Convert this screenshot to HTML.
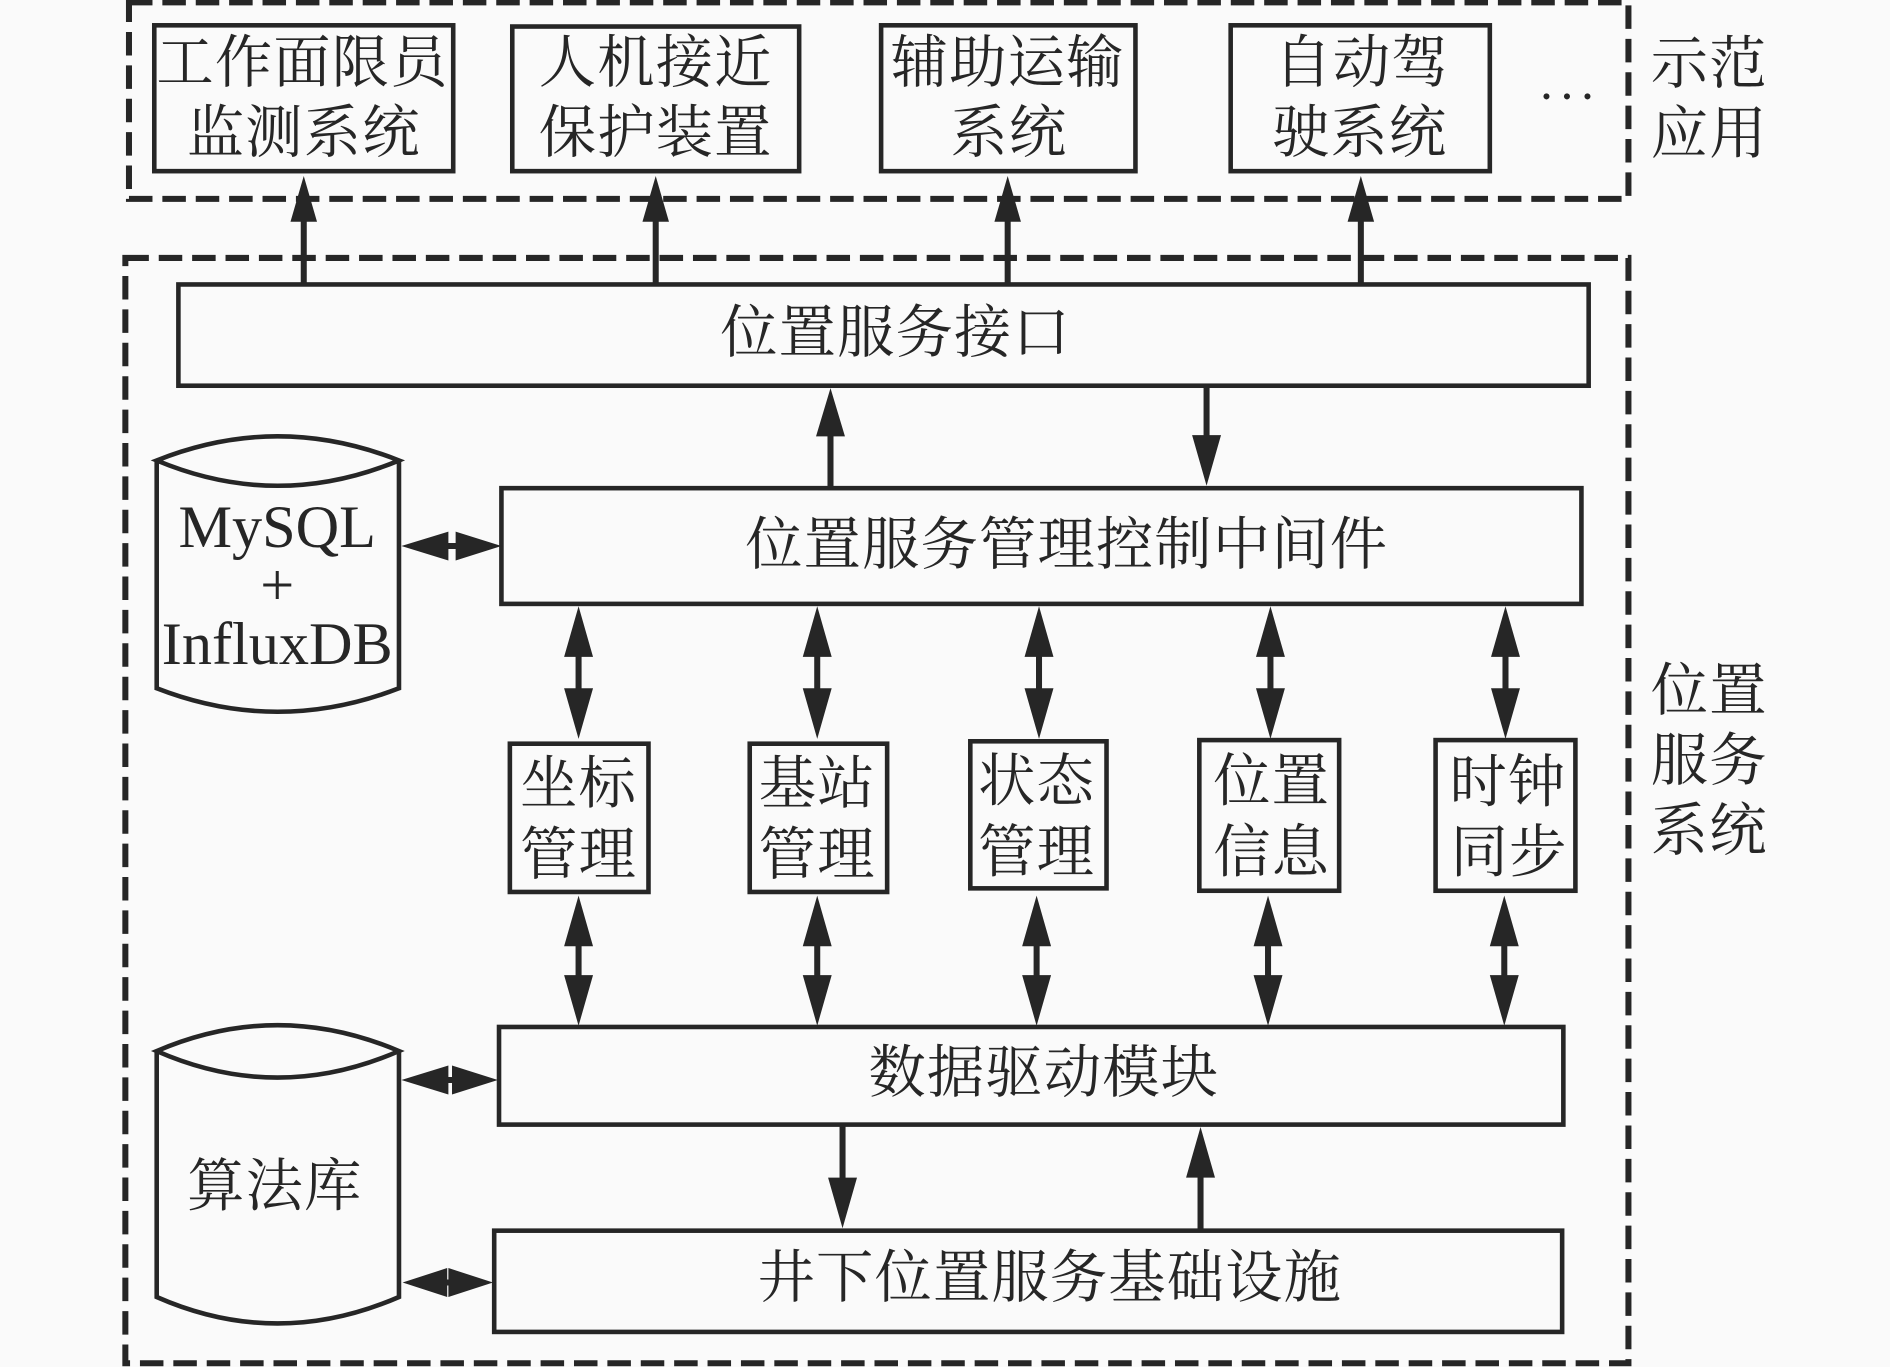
<!DOCTYPE html>
<html lang="zh">
<head>
<meta charset="utf-8">
<title>位置服务系统</title>
<style>
html,body{margin:0;padding:0;background:#fafafa;width:1890px;height:1367px;overflow:hidden}
svg{display:block}
text{font-family:"Noto Serif CJK SC","Liberation Serif",serif;font-size:47.5px;font-weight:400;fill:#262626;text-anchor:middle;letter-spacing:1px}
.en{font-family:"Liberation Serif",serif;font-size:50px;letter-spacing:0}
.b{fill:none;stroke:#262626;stroke-width:3.8}
.d{fill:none;stroke:#262626;stroke-width:5;stroke-dasharray:19.5 8.2}
.l{stroke:#262626;stroke-width:5;fill:none}
.h{fill:#262626;stroke:none}
</style>
</head>
<body>
<svg width="1890" height="1367" viewBox="0 0 1568 1134.1" xmlns="http://www.w3.org/2000/svg">
<rect width="1568" height="1135" fill="#fafafa"/>
<!-- dashed groups -->
<rect class="d" x="107" y="2" width="1244" height="163"/>
<rect class="d" x="104" y="214" width="1247" height="917"/>
<!-- top boxes -->
<rect class="b" x="128" y="21" width="248" height="121"/>
<rect class="b" x="425" y="22" width="238" height="120"/>
<rect class="b" x="731" y="21" width="211" height="121"/>
<rect class="b" x="1021" y="21" width="215" height="121"/>
<text x="251" y="68">工作面限员</text><text x="252" y="126">监测系统</text>
<text x="544" y="68">人机接近</text><text x="544" y="126">保护装置</text>
<text x="836" y="68">辅助运输</text><text x="837" y="126">系统</text>
<text x="1130" y="68">自动驾</text><text x="1128" y="126">驶系统</text>
<circle class="h" cx="1283" cy="80" r="2.5"/><circle class="h" cx="1300" cy="80" r="2.5"/><circle class="h" cx="1317" cy="80" r="2.5"/>
<text x="1418" y="69">示范</text><text x="1418" y="127">应用</text>
<text x="1418" y="589">位置</text><text x="1418" y="647">服务</text><text x="1418" y="705">系统</text>
<!-- up arrows to apps -->
<path class="l" d="M252 236V175M544 236V175M836 236V175M1129 236V175"/>
<path class="h" d="M252 146l11 38h-22zM544 146l11 38h-22zM836 146l11 38h-22zM1129 146l11 38h-22z"/>
<!-- interface -->
<rect class="b" x="148" y="236" width="1170" height="84"/>
<text x="743" y="292">位置服务接口</text>
<path class="l" d="M689 405V355M1001 320V370"/>
<path class="h" d="M689 322l12 40h-24zM1001 403l12 -42h-24z"/>
<!-- middleware -->
<rect class="b" x="416" y="405" width="896" height="96"/>
<text x="885" y="468">位置服务管理控制中间件</text>
<!-- cylinder 1 -->
<path class="b" d="M130 382Q230 342 331 382Q230 424 130 382ZM130 382V571Q230 610 331 571V382"/>
<text class="en" x="230" y="454">MySQL</text>
<text class="en" x="230" y="502">+</text>
<text class="en" x="230" y="551">InfluxDB</text>
<!-- cylinder 2 -->
<path class="b" d="M130 872Q230 829 331 872Q230 916 130 872ZM130 872V1076Q230 1120 331 1076V872"/>
<text x="228" y="1000">算法库</text>
<!-- horizontal double arrows -->
<path class="l" d="M365 453H385M365 896H385M365 1064H385"/>
<path class="h" d="M333 453l39 -12v24zM416 453l-38 -12v24zM333 896l39 -12v24zM413 896l-38 -12v24zM334 1064l37 -12v24zM409 1064l-37 -12v24z"/>
<!-- vertical double arrows, upper row -->
<path class="l" d="M480 540V575M678 540V575M862 540V575M1054 540V575M1249 540V575"/>
<path class="h" d="M480 503l12 42h-24zM480 613l12 -42h-24zM678 503l12 42h-24zM678 613l12 -42h-24zM862 503l12 42h-24zM862 613l12 -42h-24zM1054 503l12 42h-24zM1054 613l12 -42h-24zM1249 503l12 42h-24zM1249 613l12 -42h-24z"/>
<!-- small boxes -->
<rect class="b" x="423" y="617" width="115" height="123"/>
<rect class="b" x="622" y="617" width="114" height="123"/>
<rect class="b" x="805" y="615" width="113" height="122"/>
<rect class="b" x="995" y="614" width="116" height="125"/>
<rect class="b" x="1191" y="614" width="116" height="125"/>
<text x="480" y="666">坐标</text><text x="480" y="725">管理</text>
<text x="678" y="666">基站</text><text x="678" y="725">管理</text>
<text x="860" y="664">状态</text><text x="860" y="723">管理</text>
<text x="1055" y="664">位置</text><text x="1055" y="723">信息</text>
<text x="1251" y="665">时钟</text><text x="1252" y="723">同步</text>
<!-- vertical double arrows, lower row -->
<path class="l" d="M480 780V815M678 780V815M860 780V815M1052 780V815M1248 780V815"/>
<path class="h" d="M480 743l12 42h-24zM480 851l12 -42h-24zM678 743l12 42h-24zM678 851l12 -42h-24zM860 743l12 42h-24zM860 851l12 -42h-24zM1052 743l12 42h-24zM1052 851l12 -42h-24zM1248 743l12 42h-24zM1248 851l12 -42h-24z"/>
<!-- driver -->
<rect class="b" x="414" y="852" width="883" height="81"/>
<text x="866" y="906">数据驱动模块</text>
<path class="l" d="M699 933V985M996 1020V970"/>
<path class="h" d="M699 1019l12 -42h-24zM996 935l12 42h-24z"/>
<!-- infrastructure -->
<rect class="b" x="410" y="1021" width="886" height="84"/>
<text x="871" y="1076">井下位置服务基础设施</text>
</svg>
</body>
</html>
